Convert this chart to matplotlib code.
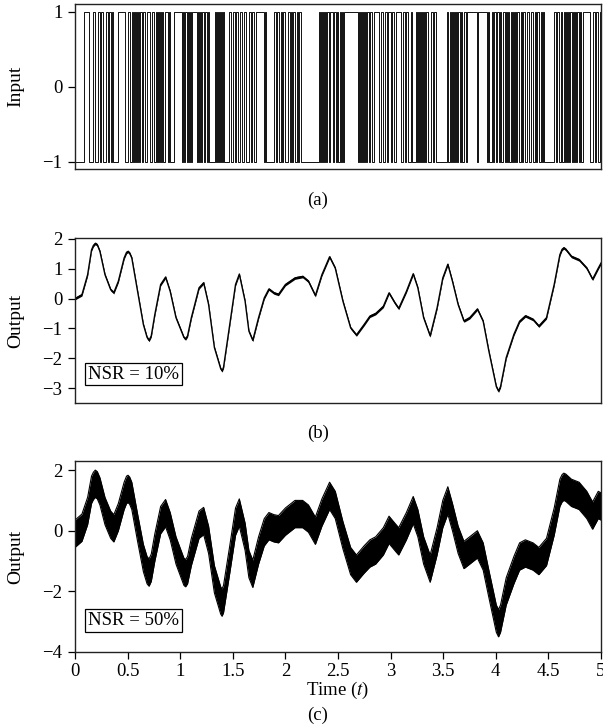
import matplotlib
matplotlib.use('Agg')
import matplotlib.pyplot as plt
import numpy as np

plt.rcParams['font.family'] = ['Liberation Serif', 'DejaVu Serif']
plt.rcParams['mathtext.fontset'] = 'stix'
plt.rcParams['font.size'] = 13.5

# Input: binary excitation, one character per 0.01 s (1 = +1, 0 = -1), one string per 0.5 s
input_bits = [
    "000000000" "1111" "0000" "11" "000" "1101100110110100" "000" "1111111" "00",
    "11001" "0101010110110" "1110" "01100101010" "1001101" "0000" "111111",
    "1101" "01010101" "1111" "01010110101" "000000" "101010101" "0000" "1100",
    "11011" "0011001" "10011011001" "1111111" "0100" "00000" "11011001011",
    "0011010" "110010110" "0000000000000000" "10101010101" "1101101",
    "001010" "1111111111111" "01010101010" "11001" "1111" "00110011011",
    "01100" "11111" "0011011001" "0000" "10101010101" "10011" "01100" "00000",
    "00001" "010101010" "110100110" "111111111" "0" "111111111" "01001011",
    "01101001101" "010101010" "11001" "011001101100" "101100101" "0000",
    "00000" "110110010" "0101010101010" "1101001" "111111" "0011011001",
]

# Output: noise-free response at these times
t_knots = [0.000, 0.066, 0.120, 0.157, 0.175, 0.193, 0.212, 0.237, 0.285, 0.339, 0.369, 0.412,
           0.467, 0.490, 0.504, 0.520, 0.540, 0.595, 0.650, 0.685, 0.704, 0.725, 0.759, 0.814, 0.861, 0.905,
           0.960, 1.035, 1.051, 1.070, 1.106, 1.179, 1.223, 1.270, 1.325, 1.385, 1.398, 1.412, 1.471, 1.526,
           1.562, 1.617, 1.653, 1.690, 1.745, 1.799, 1.843, 1.891, 1.934, 2.000,
           2.091, 2.164, 2.219, 2.285, 2.347, 2.420, 2.474, 2.547, 2.620, 2.675,
           2.748, 2.803, 2.858, 2.931, 2.985, 3.040, 3.077, 3.150, 3.215, 3.259,
           3.314, 3.376, 3.442, 3.496, 3.544, 3.588, 3.642, 3.697, 3.752, 3.825,
           3.880, 3.934, 4.005, 4.026, 4.045, 4.099, 4.172, 4.226, 4.281, 4.354, 4.409, 4.482,
           4.555, 4.609, 4.630, 4.646, 4.665, 4.719, 4.792, 4.865, 4.920, 4.974, 5.000]

output_nsr10 = [0.00, 0.13, 0.80, 1.63, 1.78, 1.85, 1.80, 1.58, 0.80, 0.30, 0.20, 0.58,
                1.36, 1.55, 1.58, 1.52, 1.36, 0.24, -0.87, -1.30, -1.40, -1.25, -0.53, 0.47, 0.72, 0.24,
                -0.64, -1.30, -1.35, -1.25, -0.64, 0.36, 0.53, -0.20, -1.64, -2.35, -2.42, -2.30, -0.87, 0.47,
                0.82, -0.09, -1.09, -1.40, -0.64, 0.02, 0.32, 0.19, 0.14, 0.47,
                0.69, 0.74, 0.58, 0.10, 0.80, 1.40, 1.02, -0.09, -0.98, -1.22,
                -0.87, -0.59, -0.50, -0.26, 0.19, -0.14, -0.33, 0.24, 0.83, 0.36,
                -0.64, -1.25, -0.31, 0.69, 1.15, 0.58, -0.20, -0.75, -0.64, -0.35,
                -0.76, -1.76, -2.95, -3.10, -2.95, -1.98, -1.20, -0.76, -0.58, -0.70, -0.92, -0.64,
                0.47, 1.47, 1.65, 1.70, 1.65, 1.41, 1.30, 1.02, 0.65, 1.02, 1.19]

output_nsr50 = [-0.10, 0.10, 0.65, 1.35, 1.48, 1.55, 1.50, 1.30, 0.65, 0.20, 0.08, 0.45,
                1.15, 1.35, 1.38, 1.32, 1.15, 0.10, -0.90, -1.30, -1.38, -1.22, -0.55, 0.35, 0.58, 0.15,
                -0.65, -1.35, -1.40, -1.30, -0.70, 0.20, 0.32, -0.30, -1.60, -2.30, -2.37, -2.25, -0.95, 0.30,
                0.60, -0.20, -1.10, -1.42, -0.65, -0.05, 0.15, 0.08, 0.05, 0.30,
                0.55, 0.55, 0.40, 0.00, 0.60, 1.15, 0.85, -0.15, -1.00, -1.25,
                -0.95, -0.75, -0.65, -0.35, 0.03, -0.20, -0.35, 0.15, 0.68, 0.25,
                -0.65, -1.25, -0.35, 0.55, 1.00, 0.45, -0.30, -0.80, -0.65, -0.45,
                -0.85, -1.75, -2.90, -3.05, -2.90, -2.00, -1.30, -0.85, -0.75, -0.85, -1.00, -0.70,
                0.30, 1.25, 1.40, 1.45, 1.42, 1.25, 1.15, 0.85, 0.50, 0.85, 0.80]

fig = plt.figure(figsize=(6.03, 7.27), dpi=100)
W, H = 603, 727
left, right = 75 / W, 601 / W


def make_axes(top_px, bottom_px):
    ax = fig.add_axes([left, 1 - bottom_px / H, right - left, (bottom_px - top_px) / H])
    for s in ax.spines.values():
        s.set_linewidth(1.0)
        s.set_color('#222222')
    ax.tick_params(direction='out', length=5, width=0.9, pad=4)
    ax.set_xlim(0, 5)
    return ax


# (a) input
ax1 = make_axes(4, 169)
bits = "".join(input_bits)
levels = np.array([1.0 if c == '1' else -1.0 for c in bits])
t_edges = np.linspace(0, 5, len(levels) + 1)
ax1.step(t_edges, np.append(levels, levels[-1]), where='post', color='black', lw=0.65)
ax1.set_ylim(-1.1, 1.1)
ax1.set_yticks([1, 0, -1])
ax1.set_yticklabels(['1', '0', '\u22121'])
ax1.set_xticks([])
ax1.set_ylabel('Input', fontsize=14, labelpad=13)

# (b) output, NSR = 10%
ax2 = make_axes(238, 403)
yb = np.array(output_nsr10)
ax2.fill_between(t_knots, yb - 0.045, yb + 0.045, color='black', lw=0)
ax2.plot(t_knots, yb, color='black', lw=1.0)
ax2.set_ylim(-3.5, 2.03)
ax2.set_yticks([2, 1, 0, -1, -2, -3])
ax2.set_yticklabels(['2', '1', '0', '\u22121', '\u22122', '\u22123'])
ax2.set_xticks([])
ax2.set_ylabel('Output', fontsize=14, labelpad=13)
ax2.text(0.025, 0.175, 'NSR = 10%', transform=ax2.transAxes,
         va='center', ha='left',
         bbox=dict(boxstyle='square,pad=0.15', fc='white', ec='black', lw=0.9))

# (c) output, NSR = 50%
ax3 = make_axes(461, 652)
yc = np.array(output_nsr50)
ax3.fill_between(t_knots, yc - 0.45, yc + 0.45, color='black', lw=0)
ax3.plot(t_knots, yc + 0.45, color='black', lw=0.8)
ax3.plot(t_knots, yc - 0.45, color='black', lw=0.8)
ax3.set_ylim(-4, 2.3)
ax3.set_yticks([2, 0, -2, -4])
ax3.set_yticklabels(['2', '0', '\u22122', '\u22124'])
ax3.set_xticks([0, 0.5, 1, 1.5, 2, 2.5, 3, 3.5, 4, 4.5, 5])
ax3.set_xticklabels(['0', '0.5', '1', '1.5', '2', '2.5', '3', '3.5', '4', '4.5', '5'])
ax3.tick_params(axis='x', pad=3)
ax3.set_ylabel('Output', fontsize=14, labelpad=13)
ax3.set_xlabel('Time ($t$)', labelpad=0)
ax3.text(0.025, 0.165, 'NSR = 50%', transform=ax3.transAxes,
         va='center', ha='left',
         bbox=dict(boxstyle='square,pad=0.15', fc='white', ec='black', lw=0.9))

for lab, ypx in [('(a)', 200), ('(b)', 433), ('(c)', 715)]:
    fig.text(318 / W, 1 - ypx / H, lab, ha='center', va='center')

fig.savefig('out.png', dpi=100)
